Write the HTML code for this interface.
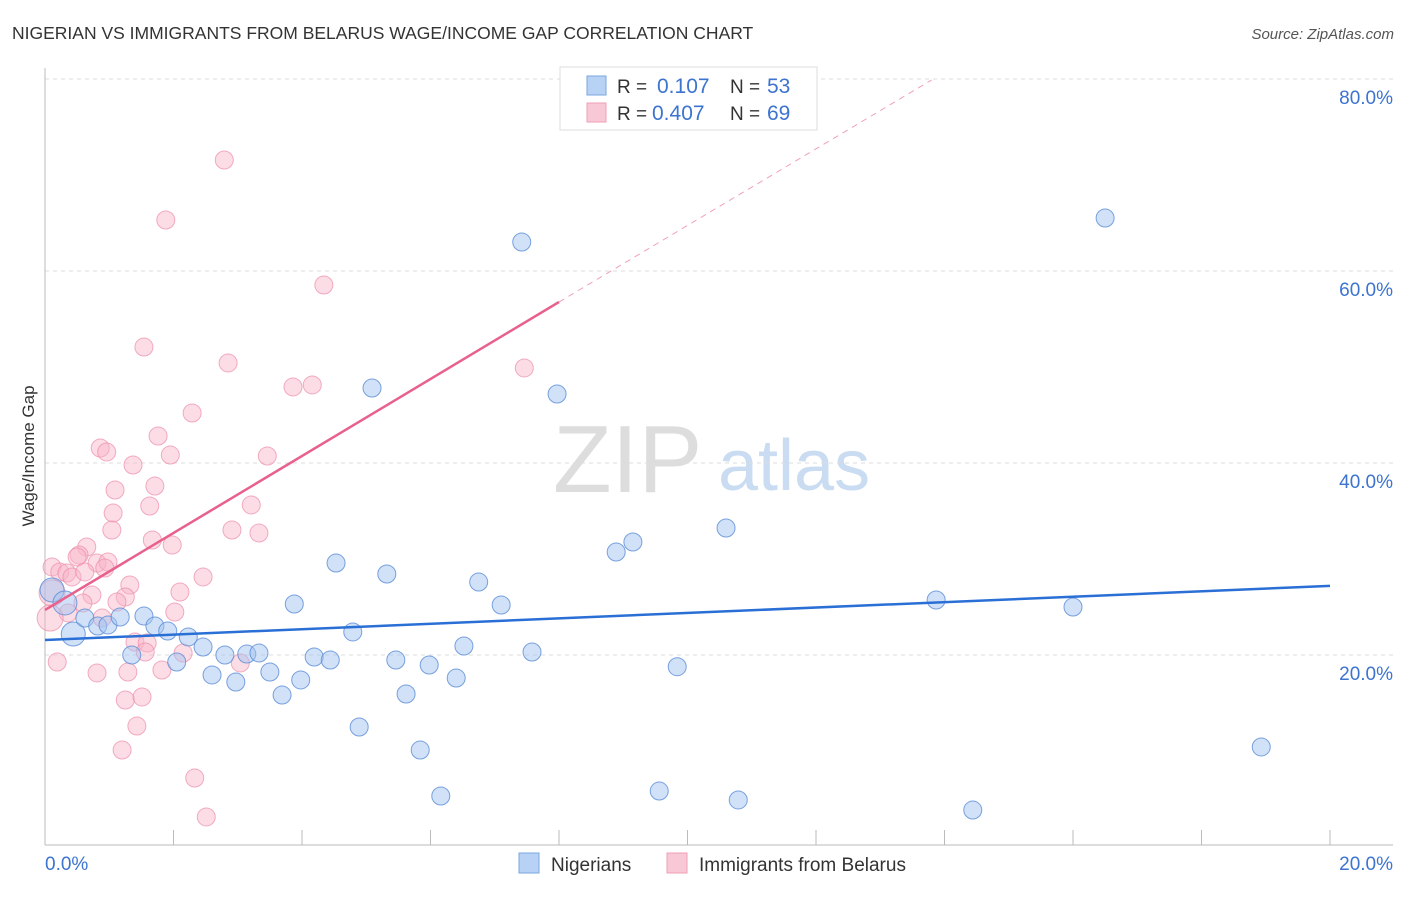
<!DOCTYPE html>
<html><head><meta charset="utf-8"><style>
body{margin:0;background:#fff;font-family:"Liberation Sans",sans-serif}
svg text{font-family:"Liberation Sans",sans-serif}
</style></head><body>
<svg id="c" width="1406" height="892">
<text x="12" y="39" font-size="17.5" fill="#333">NIGERIAN VS IMMIGRANTS FROM BELARUS WAGE/INCOME GAP CORRELATION CHART</text>
<text x="1394" y="39" font-size="15" fill="#555" font-style="italic" text-anchor="end">Source: ZipAtlas.com</text>
<text x="34" y="456" font-size="17" fill="#333" text-anchor="middle" transform="rotate(-90 34 456)">Wage/Income Gap</text>
<g><text x="553" y="492" font-size="96" fill="#ddd" font-family="Liberation Serif">ZIP</text><text x="718" y="490" font-size="72" fill="#c9dcf2">atlas</text></g>
<g id="grid"></g><g id="marks"></g>
<g>
<rect x="560" y="67" width="257" height="63" fill="#fff" stroke="#ddd"/>
<rect x="587" y="76" width="19" height="19" fill="#b8d2f5" stroke="#7aa7e0"/>
<text x="617" y="93" font-size="19" fill="#333">R = </text><text x="657" y="93" font-size="21" fill="#3c74d0">0.107</text>
<text x="730" y="93" font-size="19" fill="#333">N = </text><text x="767" y="93" font-size="21" fill="#3c74d0">53</text>
<rect x="587" y="103" width="19" height="19" fill="#f9c8d6" stroke="#ee9fb6"/>
<text x="617" y="120" font-size="19" fill="#333">R = </text><text x="652" y="120" font-size="21" fill="#3c74d0">0.407</text>
<text x="730" y="120" font-size="19" fill="#333">N = </text><text x="767" y="120" font-size="21" fill="#3c74d0">69</text>
</g>
<g>
<rect x="519" y="853" width="20" height="20" fill="#b8d2f5" stroke="#7aa7e0"/><text x="551" y="871" font-size="19" fill="#333">Nigerians</text>
<rect x="667" y="853" width="20" height="20" fill="#f9c8d6" stroke="#ee9fb6"/><text x="699" y="871" font-size="19" fill="#333">Immigrants from Belarus</text>
</g>
</svg>
<script>
const xTicks=[0,20];
const yTicks=[20,40,60,80];
const blueX=[0.11,0.31,0.44,0.62,0.82,0.98,1.17,1.54,1.35,1.71,1.91,2.05,2.23,2.46,2.6,2.8,2.97,3.14,3.33,3.5,3.69,3.88,3.98,4.19,4.44,4.53,4.79,4.89,5.09,5.32,5.46,5.62,5.84,5.98,6.16,6.4,6.52,6.75,7.1,7.42,7.58,7.97,8.89,9.15,9.56,9.84,10.6,10.79,13.87,14.44,16.0,16.5,18.93];
const blueY=[26.77,25.42,22.19,23.85,23.02,23.13,23.96,24.06,20.0,23.02,22.5,19.27,21.88,20.83,17.92,20.0,17.19,20.1,20.21,18.23,15.83,25.31,17.4,19.79,19.48,29.58,22.4,12.5,47.81,28.44,19.48,15.94,10.1,18.96,5.31,17.6,20.94,27.6,25.21,63.02,20.31,47.19,30.73,31.77,5.83,18.78,33.23,4.9,25.73,3.85,25.0,65.52,10.42];
const pinkX=[2.79,1.88,4.34,1.54,2.85,7.46,3.86,4.16,2.29,1.76,0.86,0.96,1.95,3.46,1.37,1.71,1.09,1.63,3.21,1.06,1.04,2.91,3.33,1.67,1.98,0.65,0.53,0.5,0.81,0.98,0.11,0.23,0.34,0.42,0.62,0.93,1.32,2.46,0.11,0.73,1.25,2.1,1.12,0.59,0.36,2.02,0.89,0.08,1.4,1.59,1.56,2.15,0.19,0.81,1.29,1.82,3.04,1.25,1.51,1.43,1.2,2.33,2.51];
const pinkY=[71.56,65.31,58.54,52.08,50.42,49.9,47.92,48.13,45.21,42.81,41.56,41.15,40.83,40.73,39.79,37.6,37.19,35.52,35.63,34.79,33.02,33.02,32.71,31.98,31.46,31.25,30.42,30.21,29.58,29.69,29.17,28.65,28.54,28.13,28.65,29.06,27.29,28.13,26.46,26.25,26.04,26.56,25.52,25.42,24.38,24.48,23.85,23.85,21.35,21.25,20.31,20.21,19.27,18.13,18.23,18.44,19.17,15.31,15.63,12.6,10.1,7.19,3.13];
const blueTrend=[21.56,27.2];
const pinkTrend=[24.69,56.77,79.9];
const pinkTrendX=[0,8,13.8];
const NS='http://www.w3.org/2000/svg';
const X=v=>45+v/20*1285, Y=v=>847-v*9.6;
function mk(t,a,p){const e=document.createElementNS(NS,t);for(const k in a)e.setAttribute(k,a[k]);p.appendChild(e);return e;}
const g=document.getElementById('grid'), m=document.getElementById('marks');
yTicks.forEach(v=>{
 const l=mk('line',{x1:45,x2:1393,y1:Y(v),y2:Y(v),stroke:'#ddd','stroke-dasharray':'4 4'},g);
 
 
 const t=mk('text',{x:1393,y:Y(v)+25,'font-size':19,fill:'#3c74d0','text-anchor':'end'},g);t.textContent=v.toFixed(1)+'%';
 
 
});
mk('line',{x1:45,x2:45,y1:68,y2:845,stroke:'#bbb'},g);
mk('line',{x1:45,x2:1393,y1:845,y2:845,stroke:'#bbb'},g);
for(let i=0;i<=10;i++){const xx=X(i*2);mk('line',{x1:xx,x2:xx,y1:830,y2:845,stroke:'#bbb'},g);}
xTicks.forEach((v,i)=>{const t=mk('text',{x:i?1393:45,y:870,'font-size':19,fill:'#3c74d0','text-anchor':i?'end':'start'},g);t.textContent=v.toFixed(1)+'%';
 
 });
pinkX.forEach((v,i)=>{const c=mk('circle',{cx:X(v),cy:Y(pinkY[i]),r:(i===38||i===47)?13:9,fill:'rgba(248,180,200,0.45)',stroke:'rgba(236,140,170,0.7)'},m);
 
 });
blueX.forEach((v,i)=>{const c=mk('circle',{cx:X(v),cy:Y(blueY[i]),r:(i<3)?12:9,fill:'rgba(164,196,240,0.5)',stroke:'rgba(90,140,215,0.8)'},m);
 
 });
const bl=mk('line',{x1:X(0),y1:Y(blueTrend[0]),x2:X(20),y2:Y(blueTrend[1]),stroke:'#2a6fd6','stroke-width':2.5},m);


const pl=mk('line',{x1:X(pinkTrendX[0]),y1:Y(pinkTrend[0]),x2:X(pinkTrendX[1]),y2:Y(pinkTrend[1]),stroke:'#e8618d','stroke-width':2.5},m);


const pd=mk('line',{x1:X(pinkTrendX[1]),y1:Y(pinkTrend[1]),x2:X(pinkTrendX[2]),y2:Y(pinkTrend[2]),stroke:'#f0a0b8','stroke-width':1,'stroke-dasharray':'6 5'},m);


</script>
</body></html>
